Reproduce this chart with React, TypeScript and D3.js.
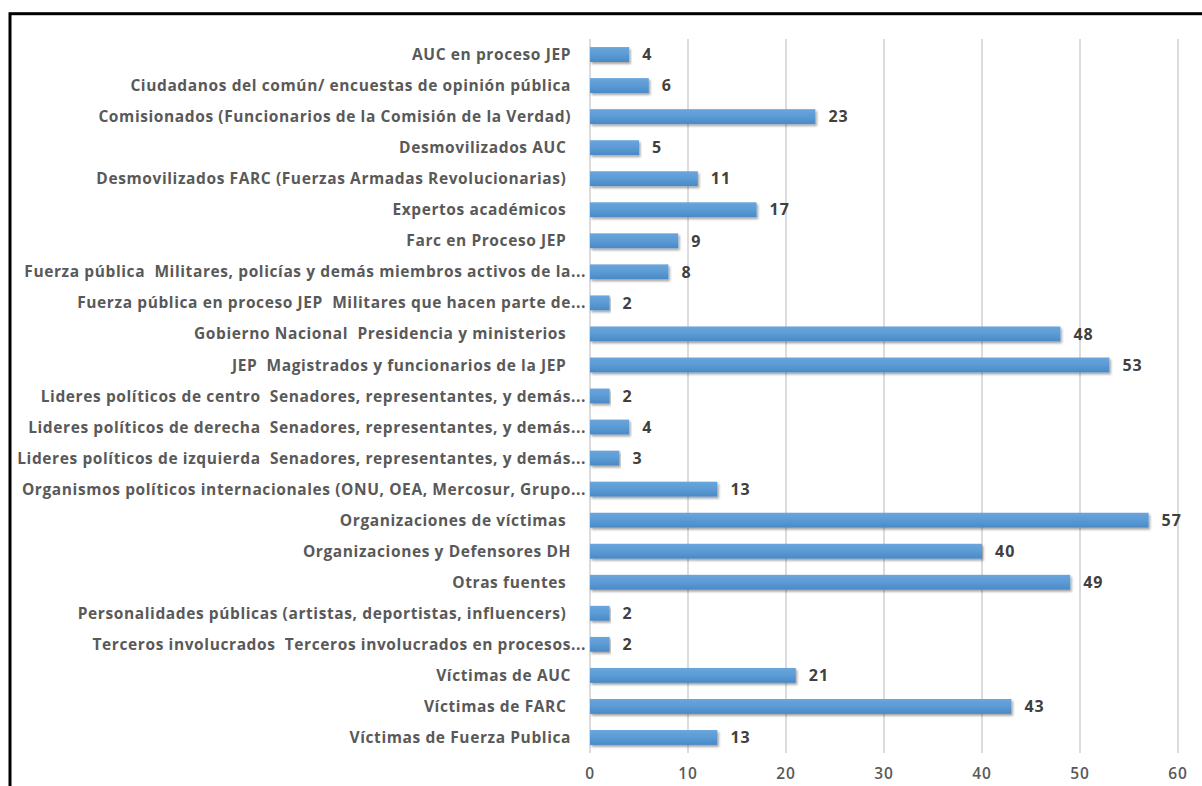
import React from "react";
import * as d3 from "d3";

const categories: string[] = [
  "AUC en proceso JEP",
  "Ciudadanos del común/ encuestas de opinión pública",
  "Comisionados (Funcionarios de la Comisión de la Verdad)",
  "Desmovilizados AUC ",
  "Desmovilizados FARC (Fuerzas Armadas Revolucionarias) ",
  "Expertos académicos ",
  "Farc en Proceso JEP ",
  "Fuerza pública  Militares, policías y demás miembros activos de la...",
  "Fuerza pública en proceso JEP  Militares que hacen parte de...",
  "Gobierno Nacional  Presidencia y ministerios ",
  "JEP  Magistrados y funcionarios de la JEP ",
  "Lideres políticos de centro  Senadores, representantes, y demás...",
  "Lideres políticos de derecha  Senadores, representantes, y demás...",
  "Lideres políticos de izquierda  Senadores, representantes, y demás...",
  "Organismos políticos internacionales (ONU, OEA, Mercosur, Grupo...",
  "Organizaciones de víctimas ",
  "Organizaciones y Defensores DH",
  "Otras fuentes ",
  "Personalidades públicas (artistas, deportistas, influencers) ",
  "Terceros involucrados  Terceros involucrados en procesos...",
  "Víctimas de AUC",
  "Víctimas de FARC ",
  "Víctimas de Fuerza Publica",
];
const values: number[] = [4, 6, 23, 5, 11, 17, 9, 8, 2, 48, 53, 2, 4, 3, 13, 57, 40, 49, 2, 2, 21, 43, 13];
const xTicks: number[] = [0, 10, 20, 30, 40, 50, 60];

const W = 1202;
const H = 786;
const left = 590;
const right = 1178;
const top = 39;
const bottom = 753;
const FONT = "'Open Sans', sans-serif";

export default function App() {
  const x = d3.scaleLinear().domain([0, 60]).range([left, right]);
  const y = d3.scaleBand<string>().domain(categories).range([top, bottom]).paddingInner(0.52).paddingOuter(0.26);
  const bw = y.bandwidth();
  return (
    <svg width={W} height={H} style={{ position: "absolute", left: 0, top: 0, background: "#fff" }}>
      <defs>
        <linearGradient id="barGrad" x1="0" y1="0" x2="0" y2="1">
          <stop offset="0" stopColor="#6aa5dc" />
          <stop offset="0.5" stopColor="#5b9bd5" />
          <stop offset="1" stopColor="#4a89c5" />
        </linearGradient>
        <filter id="shadow" x="-5%" y="-30%" width="110%" height="180%">
          <feDropShadow dx="1.5" dy="2" stdDeviation="1.2" floodColor="#000" floodOpacity="0.35" />
        </filter>
      </defs>
      <rect x={0} y={0} width={W} height={H} fill="#fff" />
      {xTicks.map((t) => (
        <line key={"g" + t} x1={x(t)} x2={x(t)} y1={top} y2={bottom} stroke="#d9d9d9" strokeWidth={1.8} />
      ))}
      {categories.map((c, i) => (
        <g key={c}>
          <rect
            x={x(0)}
            y={y(c)!}
            width={x(values[i]) - x(0)}
            height={bw}
            fill="url(#barGrad)"
            filter="url(#shadow)"
          />
          <text
            x={c.endsWith("...") ? left - 4 : left - 19}
            y={y(c)! + bw / 2}
            dy="0.36em"
            textAnchor="end"
            fontFamily={FONT}
            fontWeight={700}
            fontSize={15.5}
            letterSpacing={0.6}
            fill="#595959"
            style={{ whiteSpace: "pre" }}
          >
            {c}
          </text>
          <text
            x={x(values[i]) + 13}
            y={y(c)! + bw / 2}
            dy="0.36em"
            fontFamily={FONT}
            fontWeight={700}
            fontSize={16}
            letterSpacing={1}
            fill="#404040"
          >
            {values[i]}
          </text>
        </g>
      ))}
      {xTicks.map((t) => (
        <text
          key={"t" + t}
          x={x(t)}
          y={779}
          textAnchor="middle"
          fontFamily={FONT}
          fontWeight={600}
          fontSize={15.5}
          letterSpacing={0.8}
          fill="#595959"
        >
          {t}
        </text>
      ))}
      <rect x={10} y={13.7} width={1300} height={900} fill="none" stroke="#000" strokeWidth={3} />
    </svg>
  );
}
